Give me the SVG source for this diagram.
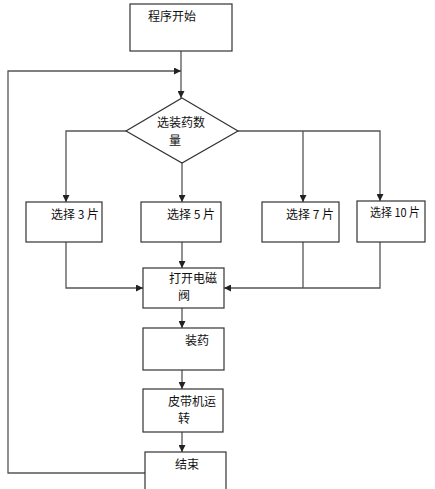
<svg xmlns="http://www.w3.org/2000/svg" width="435" height="489" viewBox="0 0 435 489">
<style>
.box{fill:#fff;stroke:#333;stroke-width:1.2}
.ln{fill:none;stroke:#555;stroke-width:1.3}
text{font-family:"Noto Sans CJK SC","Liberation Sans",sans-serif;font-size:12px;fill:#111}
</style>
<defs>
<marker id="ar" viewBox="0 0 10 10" refX="10" refY="5" markerWidth="7" markerHeight="7" markerUnits="userSpaceOnUse" orient="auto">
<path d="M0,0 L10,5 L0,10 z" fill="#222"/>
</marker>
</defs>
<rect width="435" height="489" fill="#fff"/>
<g id="connectors">
<path class="ln" d="M181,51 V98" marker-end="url(#ar)"/>
<path class="ln" d="M145,473 H8 V71 H181" marker-end="url(#ar)"/>
<path class="ln" d="M126,131 H66 V202" marker-end="url(#ar)"/>
<path class="ln" d="M182,163 V202" marker-end="url(#ar)"/>
<path class="ln" d="M238,131 H380 V201" marker-end="url(#ar)"/>
<path class="ln" d="M303,131 V202" marker-end="url(#ar)"/>
<path class="ln" d="M66,242 V288 H143" marker-end="url(#ar)"/>
<path class="ln" d="M380,242 V288 H224" marker-end="url(#ar)"/>
<path class="ln" d="M303,242 V288"/>
<path class="ln" d="M182,242 V268" marker-end="url(#ar)"/>
<path class="ln" d="M182,308 V328" marker-end="url(#ar)"/>
<path class="ln" d="M182,370 V389" marker-end="url(#ar)"/>
<path class="ln" d="M182,432 V452" marker-end="url(#ar)"/>
</g>
<g id="start"><rect class="box" x="130" y="4" width="102" height="47"/><text x="148" y="21">程序开始</text></g>
<g id="decision"><polygon class="box" points="182,98 238,131 182,163 126,131"/><text x="157" y="127">选装药数</text><text x="169" y="145">量</text></g>
<g id="sel3"><rect class="box" x="26" y="202" width="76" height="40"/><text x="51" y="219">选择 3 片</text></g>
<g id="sel5"><rect class="box" x="141" y="202" width="80" height="40"/><text x="167" y="219">选择 5 片</text></g>
<g id="sel7"><rect class="box" x="262" y="202" width="77" height="40"/><text x="286" y="219">选择 7 片</text></g>
<g id="sel10"><rect class="box" x="357" y="201" width="68" height="41"/><text x="370" y="217" textLength="50" lengthAdjust="spacingAndGlyphs">选择 10 片</text></g>
<g id="valve"><rect class="box" x="143" y="268" width="81" height="40"/><text x="169" y="283">打开电磁</text><text x="178" y="300">阀</text></g>
<g id="load"><rect class="box" x="143" y="328" width="81" height="42"/><text x="185" y="345">装药</text></g>
<g id="belt"><rect class="box" x="143" y="389" width="80" height="43"/><text x="168" y="406">皮带机运</text><text x="178" y="423">转</text></g>
<g id="end"><rect class="box" x="145" y="452" width="81" height="45"/><text x="175" y="469">结束</text></g>
</svg>
